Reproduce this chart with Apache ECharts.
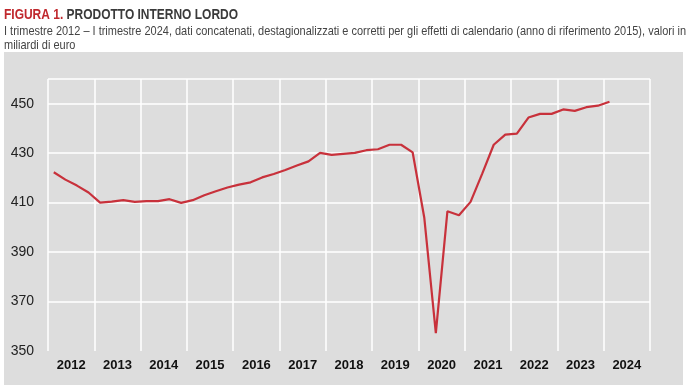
<!DOCTYPE html>
<html>
<head>
<meta charset="utf-8">
<script src="https://cdn.jsdelivr.net/npm/echarts@6/dist/echarts.min.js"></script>
<style>html,body{margin:0;padding:0;background:#fff;}#c{width:688px;height:392px;}</style>
</head>
<body>
<div id="c"></div>
<script>
const years = ['2012','2013','2014','2015','2016','2017','2018','2019','2020','2021','2022','2023','2024'];
const quarters = [];
years.forEach(function(y){ ['I','II','III','IV'].forEach(function(q){ quarters.push(q + ' ' + y); }); });
const pil = [
  422.3, 419.3, 416.9, 414.1,
  410.0, 410.4, 411.0, 410.3,
  410.6, 410.6, 411.4, 409.9,
  411.0, 413.0, 414.6, 416.1,
  417.3, 418.2, 420.2, 421.6,
  423.2, 425.0, 426.7, 430.1,
  429.3, 429.7, 430.1, 431.2,
  431.6, 433.4, 433.4, 430.3,
  404.0, 357.2, 406.5, 404.9,
  410.3, 421.6, 433.4, 437.5,
  437.9, 444.4, 445.9, 445.9,
  447.7, 447.1, 448.6, 449.2,
  450.8
];
const yTicks = [350, 370, 390, 410, 430, 450];
const titleFig = 'FIGURA 1.';
const titleMain = 'PRODOTTO INTERNO LORDO';
const subLine1 = 'I trimestre 2012 \u2013 I trimestre 2024, dati concatenati, destagionalizzati e corretti per gli effetti di calendario (anno di riferimento 2015), valori in';
const subLine2 = 'miliardi di euro';

const FONT = '"Liberation Sans", Arial, sans-serif';
const ctx = document.createElement('canvas').getContext('2d');
function measure(txt, size, weight) {
  ctx.font = (weight || 'normal') + ' ' + size + 'px ' + FONT;
  return ctx.measureText(txt).width;
}
// horizontal compression to mimic the condensed typeface of the original
const TS = 15, SS = 13;
const titleFull = measure(titleFig + ' ' + titleMain, TS, 'bold');
const titleScale = 234 / titleFull;
const figW = measure(titleFig + ' ', TS, 'bold') * titleScale;
const subScale = 682 / measure(subLine1, SS, 'normal');

const chart = echarts.init(document.getElementById('c'), null, {renderer: 'canvas'});
chart.setOption({
  animation: false,
  backgroundColor: '#ffffff',
  textStyle: {fontFamily: FONT},
  graphic: [
    {type: 'rect', z: -10, shape: {x: 4, y: 52, width: 679, height: 333}, style: {fill: '#dddddd'}},
    {type: 'text', x: 4, y: 15, scaleX: titleScale, originX: 0,
     style: {text: titleFig, fill: '#c0282d', font: 'bold ' + TS + 'px ' + FONT, textVerticalAlign: 'middle', verticalAlign: 'middle'}},
    {type: 'text', x: 4 + figW, y: 15, scaleX: titleScale, originX: 0,
     style: {text: titleMain, fill: '#3a3a3a', font: 'bold ' + TS + 'px ' + FONT, textVerticalAlign: 'middle', verticalAlign: 'middle'}},
    {type: 'text', x: 4, y: 31, scaleX: subScale, originX: 0,
     style: {text: subLine1, fill: '#444444', font: 'normal ' + SS + 'px ' + FONT, textVerticalAlign: 'middle', verticalAlign: 'middle'}},
    {type: 'text', x: 4, y: 45, scaleX: subScale, originX: 0,
     style: {text: subLine2, fill: '#444444', font: 'normal ' + SS + 'px ' + FONT, textVerticalAlign: 'middle', verticalAlign: 'middle'}}
  ],
  grid: {left: 48, right: 38, top: 79, bottom: 41, show: false},
  xAxis: [
    {
      type: 'category', data: years, boundaryGap: true,
      axisLine: {show: false}, axisTick: {show: false},
      axisLabel: {fontFamily: FONT, fontSize: 13, fontWeight: 'bold', color: '#111', margin: 8},
      splitLine: {show: true, lineStyle: {color: '#ffffff', width: 1.5}}
    },
    {
      type: 'category', data: quarters, boundaryGap: true, show: false, position: 'top'
    }
  ],
  yAxis: {
    type: 'value', min: 350, max: 460, interval: 20,
    axisLine: {show: false}, axisTick: {show: false},
    axisLabel: {
      fontFamily: FONT, fontSize: 14, color: '#222', margin: 14,
      formatter: function(v){ return yTicks.indexOf(v) >= 0 ? String(v) : ''; }
    },
    splitLine: {show: true, lineStyle: {color: ['rgba(0,0,0,0)', '#ffffff', '#ffffff', '#ffffff', '#ffffff', '#ffffff', '#ffffff'], width: 1.5}}
  },
  series: [{
    type: 'line', xAxisIndex: 1, data: pil, symbol: 'none',
    lineStyle: {color: '#c8313b', width: 2.2}
  }]
});
</script>
</body>
</html>
